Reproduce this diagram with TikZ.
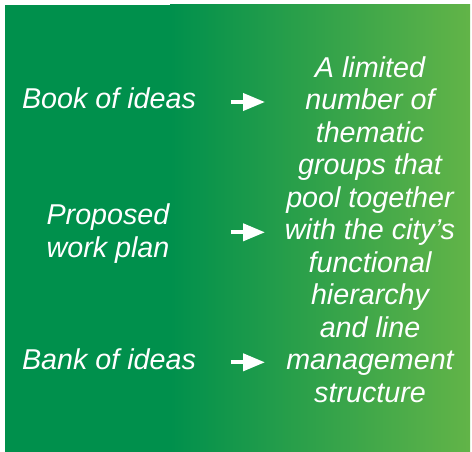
\documentclass[tikz,border=0pt]{standalone}
\usepackage{fontspec}
\setmainfont{Liberation Sans}
\usetikzlibrary{arrows.meta}
\definecolor{gdark}{RGB}{0,144,76}
\definecolor{glight}{RGB}{98,180,72}
\tikzset{
  lbl/.style={text=white, font=\fontsize{28.8}{32.6}\selectfont\itshape, inner sep=0pt, anchor=base, align=center},
  arr/.style={white, line width=4bp, -{Triangle[length=22bp,width=17bp]}, shorten >=0pt}
}
\begin{document}
\begin{tikzpicture}[x=1bp,y=-1bp]
\useasboundingbox (0,0) rectangle (472,452);
\fill[gdark] (5,5) rectangle (470,452);
\shade[left color=gdark, right color=glight, shading angle=90] (170,5) rectangle (470,452);
\node[lbl] (book) at (109,109) {Book of ideas};
\node[lbl] (plan) at (108,257) {Proposed\\work plan};
\node[lbl] (bank) at (109,369) {Bank of ideas};
\node[lbl] (groups) at (370,402) {A limited\\number of\\thematic\\groups that\\pool together\\with the city’s\\functional\\hierarchy\\and line\\management\\structure};
\coordinate (a1s) at (231,102);
\coordinate (a1e) at (265,102);
\coordinate (a2s) at (231,232.3);
\coordinate (a2e) at (265,232.3);
\coordinate (a3s) at (231,362.3);
\coordinate (a3e) at (265,362.3);
\draw[arr] (a1s) -- (a1e);
\draw[arr] (a2s) -- (a2e);
\draw[arr] (a3s) -- (a3e);
\end{tikzpicture}
\end{document}
